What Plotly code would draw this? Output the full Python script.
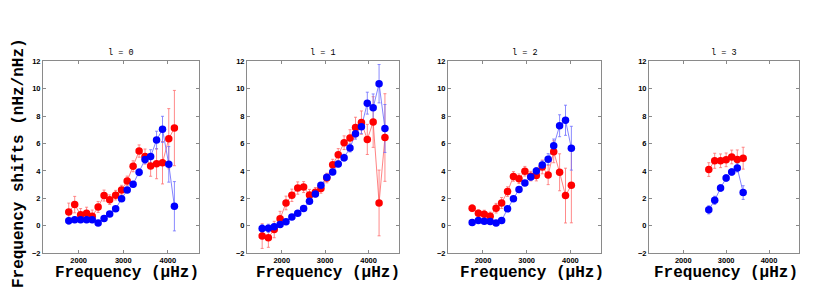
import plotly.graph_objects as go

# ---------------- data ----------------
titles = ["l = 0", "l = 1", "l = 2", "l = 3"]

x_l0 = [1778, 1911, 2044, 2178, 2304, 2437, 2570, 2696, 2830, 2963, 3089, 3222, 3356, 3489, 3615, 3748, 3881, 4022, 4148]
red_l0 = [1.0, 1.54, 0.8, 0.9, 0.69, 1.37, 2.2, 1.9, 2.23, 2.6, 3.27, 4.34, 5.45, 5.05, 4.36, 4.53, 4.6, 6.35, 7.13]
red_err_l0 = [0.65, 0.6, 0.45, 0.45, 0.45, 0.4, 0.4, 0.35, 0.35, 0.35, 0.35, 0.4, 0.45, 0.55, 0.75, 1.1, 1.55, 2.2, 2.75]
blue_l0 = [0.36, 0.43, 0.43, 0.43, 0.43, 0.19, 0.52, 0.85, 1.23, 1.97, 2.6, 3.03, 3.9, 4.83, 5.05, 6.25, 7.04, 4.48, 1.42]
blue_err_l0 = [0.25, 0.2, 0.2, 0.2, 0.2, 0.15, 0.15, 0.15, 0.15, 0.15, 0.15, 0.2, 0.25, 0.3, 0.5, 0.65, 0.95, 1.3, 1.8]

x_l1 = [1549, 1692, 1827, 1962, 2098, 2233, 2368, 2504, 2639, 2774, 2902, 3038, 3173, 3301, 3436, 3571, 3699, 3835, 3970, 4105, 4241, 4376]
red_l1 = [-0.76, -0.88, -0.28, 0.5, 1.66, 2.22, 2.75, 2.82, 2.25, 2.44, 2.72, 3.48, 4.45, 5.18, 6.06, 6.41, 7.17, 7.53, 6.3, 7.57, 1.66, 6.44]
red_err_l1 = [0.9, 0.7, 0.6, 0.55, 0.5, 0.45, 0.45, 0.4, 0.4, 0.35, 0.35, 0.35, 0.4, 0.45, 0.5, 0.6, 0.75, 0.85, 1.1, 1.85, 2.4, 3.2]
blue_l1 = [-0.21, -0.19, -0.07, 0.09, 0.28, 0.64, 0.9, 1.25, 1.78, 2.32, 2.96, 3.53, 3.93, 4.5, 4.97, 5.68, 6.72, 7.22, 8.95, 8.62, 10.37, 7.1]
blue_err_l1 = [0.3, 0.3, 0.2, 0.15, 0.15, 0.15, 0.15, 0.15, 0.15, 0.15, 0.15, 0.2, 0.2, 0.2, 0.25, 0.3, 0.4, 0.5, 0.8, 1.0, 1.4, 1.75]

x_l2 = [1753, 1895, 2030, 2165, 2300, 2427, 2562, 2697, 2824, 2959, 3094, 3221, 3356, 3491, 3618, 3753, 3888, 4022]
red_l2 = [1.28, 0.9, 0.83, 0.69, 1.28, 1.66, 2.49, 3.6, 3.43, 3.98, 3.62, 3.67, 4.29, 3.7, 5.4, 3.9, 2.2, 2.96]
red_err_l2 = [0.25, 0.25, 0.3, 0.3, 0.35, 0.4, 0.35, 0.35, 0.35, 0.35, 0.35, 0.4, 0.5, 0.7, 0.8, 1.35, 2.0, 2.75]
blue_l2 = [0.24, 0.38, 0.33, 0.31, 0.19, 0.38, 1.23, 1.96, 2.65, 3.12, 3.55, 4.0, 4.43, 4.86, 5.83, 7.3, 7.7, 5.66]
blue_err_l2 = [0.1, 0.1, 0.1, 0.1, 0.1, 0.1, 0.15, 0.15, 0.15, 0.15, 0.2, 0.25, 0.3, 0.4, 0.5, 0.8, 1.1, 1.6]

x_l3 = [2595, 2733, 2870, 3000, 3130, 3260, 3397]
red_l3 = [4.1, 4.74, 4.74, 4.81, 5.02, 4.83, 4.93]
red_err_l3 = [0.5, 0.55, 0.5, 0.5, 0.5, 0.7, 0.8]
blue_l3 = [1.16, 1.85, 2.75, 3.48, 3.93, 4.22, 2.42]
blue_err_l3 = [0.3, 0.3, 0.25, 0.25, 0.25, 0.3, 0.5]

panels = [
    (x_l0, red_l0, red_err_l0, blue_l0, blue_err_l0),
    (x_l1, red_l1, red_err_l1, blue_l1, blue_err_l1),
    (x_l2, red_l2, red_err_l2, blue_l2, blue_err_l2),
    (x_l3, red_l3, red_err_l3, blue_l3, blue_err_l3),
]

y_ticks = [-2, 0, 2, 4, 6, 8, 10, 12]
x_ticks = [2000, 3000, 4000]
x_tick_labels = ["2000", "3000", "4000"]

# ---------------- layout geometry ----------------
# page body has an 8px default margin; the figure is sized to fill the rest of the window
OFF = 8
W, H = 822 - OFF, 291 - OFF
px_left = [43, 247, 448, 649]
px_right = [199, 399, 601, 799]
px_top, px_bottom = 59, 257
xtitle_cx = [126.5, 327.5, 532, 725.5]


def fx(px):
    return (px - OFF) / W


def fy(py):
    return 1 - (py - OFF) / H


fig = go.Figure()
mono = "Liberation Mono, Courier New, monospace"
tickfont = dict(family="Liberation Sans, Arial, sans-serif", size=7.5, color="black", weight="bold")

for i, (xs, ry, re, by, be) in enumerate(panels):
    xa = "x" if i == 0 else f"x{i+1}"
    ya = "y" if i == 0 else f"y{i+1}"
    fig.add_trace(go.Scatter(
        x=xs, y=ry, mode="lines", line=dict(color="rgba(255,90,90,0.75)", width=1),
        error_y=dict(type="data", array=re, visible=True, color="rgba(255,110,110,0.8)", thickness=1, width=1.5),
        xaxis=xa, yaxis=ya, showlegend=False, hoverinfo="skip"))
    fig.add_trace(go.Scatter(
        x=xs, y=by, mode="lines", line=dict(color="rgba(90,90,255,0.75)", width=1),
        error_y=dict(type="data", array=be, visible=True, color="rgba(110,110,255,0.8)", thickness=1, width=1.5),
        xaxis=xa, yaxis=ya, showlegend=False, hoverinfo="skip"))
    fig.add_trace(go.Scatter(
        x=xs, y=ry, mode="markers", marker=dict(color="#ff0000", size=7.5),
        xaxis=xa, yaxis=ya, showlegend=False))
    fig.add_trace(go.Scatter(
        x=xs, y=by, mode="markers", marker=dict(color="#0000ff", size=7.5),
        xaxis=xa, yaxis=ya, showlegend=False))

    dom_x = [fx(px_left[i]), fx(px_right[i])]
    dom_y = [fy(px_bottom), fy(px_top)]
    axis_common = dict(showline=True, mirror="ticks", linecolor="#8a8a8a", linewidth=1,
                       ticks="inside", ticklen=3, tickcolor="#8a8a8a",
                       showgrid=False, zeroline=False, tickfont=tickfont)
    fig.layout[f"xaxis{'' if i == 0 else i+1}"] = dict(
        domain=dom_x, range=[1200, 4700], tickvals=x_ticks, ticktext=x_tick_labels,
        anchor=ya, **axis_common)
    fig.layout[f"yaxis{'' if i == 0 else i+1}"] = dict(
        domain=dom_y, range=[-2, 12], tickvals=y_ticks, anchor=xa, **axis_common)

    cx = fx((px_left[i] + px_right[i]) / 2)
    fig.add_annotation(text=titles[i], x=cx, y=fy(50), xref="paper", yref="paper",
                       showarrow=False, font=dict(family=mono, size=8.5, color="black"),
                       xanchor="center", yanchor="middle")
    fig.add_annotation(text="Frequency (μHz)", x=fx(xtitle_cx[i]), y=fy(277.5), xref="paper", yref="paper",
                       showarrow=False, font=dict(family=mono, size=16, color="black", weight="bold"),
                       xanchor="center", yanchor="middle")

fig.add_annotation(text="Frequency shifts (nHz/nHz)", x=fx(19), y=fy(164), xref="paper", yref="paper",
                   showarrow=False, textangle=-90,
                   font=dict(family=mono, size=16, color="black", weight="bold"),
                   xanchor="center", yanchor="middle")

fig.update_layout(width=W, height=H, margin=dict(l=0, r=0, t=0, b=0),
                  paper_bgcolor="white", plot_bgcolor="white")

fig.write_html("out.html")
